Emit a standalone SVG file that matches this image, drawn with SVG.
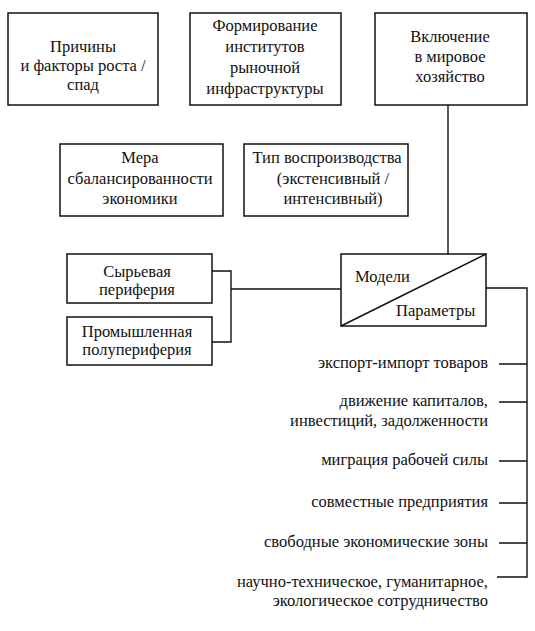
<svg xmlns="http://www.w3.org/2000/svg" width="535" height="631" viewBox="0 0 535 631">
<style>
.box{fill:#fff;stroke:#111;stroke-width:1.5}
.ln{fill:none;stroke:#111;stroke-width:1.4}
text{font-family:"Liberation Serif","DejaVu Serif",serif;font-size:16.5px;fill:#111}
.c{text-anchor:middle}
.e{text-anchor:end}
</style>
<rect width="535" height="631" fill="#fff"/>
<g id="connectors">
<path class="ln" d="M448 105 V254"/>
<path class="ln" d="M212 271 H231 V342 H212 M231 289 H341"/>
<path class="ln" d="M486 288 H527 V577 H497"/>
<path class="ln" d="M499 364 H527 M499 402 H527 M499 461 H527 M499 503 H527 M499 543 H527"/>
</g>
<g id="n1"><rect class="box" x="8" y="13" width="150" height="92"/>
<text class="c" x="83" y="52">Причины</text><text class="c" x="83" y="71">и факторы роста /</text><text class="c" x="83" y="90">спад</text></g>
<g id="n2"><rect class="box" x="190" y="13" width="151" height="92"/>
<text class="c" x="265" y="31">Формирование</text><text class="c" x="265" y="52">институтов</text><text class="c" x="265" y="73">рыночной</text><text class="c" x="265" y="94">инфраструктуры</text></g>
<g id="n3"><rect class="box" x="375" y="13" width="152" height="92"/>
<text class="c" x="450" y="42">Включение</text><text class="c" x="450" y="62">в мировое</text><text class="c" x="450" y="82">хозяйство</text></g>
<g id="n4"><rect class="box" x="60" y="144" width="163" height="72"/>
<text class="c" x="140" y="163">Мера</text><text class="c" x="140" y="184">сбалансированности</text><text class="c" x="140" y="204">экономики</text></g>
<g id="n5"><rect class="box" x="244" y="144" width="164" height="72"/>
<text class="c" x="327" y="163">Тип воспроизводства</text><text class="c" x="333" y="184">(экстенсивный /</text><text class="c" x="333" y="204">интенсивный)</text></g>
<g id="n6"><rect class="box" x="67" y="254" width="145" height="49"/>
<text class="c" x="137" y="277">Сырьевая</text><text class="c" x="137" y="295">периферия</text></g>
<g id="n7"><rect class="box" x="67" y="317" width="145" height="48"/>
<text class="c" x="137" y="337">Промышленная</text><text class="c" x="137" y="355">полупериферия</text></g>
<g id="n8"><rect class="box" x="341" y="254" width="145" height="72"/>
<path class="ln" d="M341 326 L486 254"/>
<text x="355" y="282">Модели</text><text x="396" y="316">Параметры</text></g>
<g id="items">
<text class="e" x="488" y="368">экспорт-импорт товаров</text>
<text class="e" x="488" y="406">движение капиталов,</text>
<text class="e" x="488" y="426">инвестиций, задолженности</text>
<text class="e" x="488" y="465">миграция рабочей силы</text>
<text class="e" x="488" y="507">совместные предприятия</text>
<text class="e" x="488" y="547">свободные экономические зоны</text>
<text class="e" x="488" y="587">научно-техническое, гуманитарное,</text>
<text class="e" x="488" y="606">экологическое сотрудничество</text>
</g>
</svg>
